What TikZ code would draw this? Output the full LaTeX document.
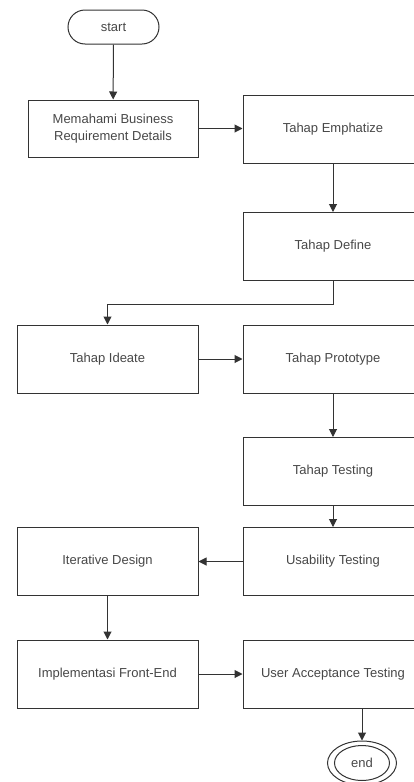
\documentclass[tikz,border=0pt]{standalone}
\usepackage{fontspec}
\setmainfont{Liberation Sans}
\usetikzlibrary{arrows.meta,shapes.geometric}
\definecolor{ink}{HTML}{333333}
\begin{document}
\begin{tikzpicture}[x=1pt,y=-1pt,
  every node/.style={font=\fontsize{13}{17}\selectfont, text=ink!90, align=center, inner sep=0pt},
  box/.style={draw=ink, line width=1pt, rectangle, minimum height=68pt},
  lbox/.style={box, minimum width=181pt},
  rbox/.style={box, minimum width=180pt},
  flow/.style={draw=ink, line width=1pt, -{Triangle[length=8pt,width=8pt]}}
]
\useasboundingbox (0,0) rectangle (414,782);
\clip (0,0) rectangle (414,782);

% terminals
\node[draw=ink, line width=1pt, rounded corners=17pt, minimum width=91pt, minimum height=34pt] (start) at (113.5,27) {start};

% left column
\node[box, minimum width=170pt, minimum height=57pt] (bizreq) at (113,128.5) {Memahami Business\\Requirement Details};
\node[lbox] (ideate) at (107.5,359) {Tahap Ideate};
\node[lbox] (iter) at (107.5,561.5) {Iterative Design};
\node[lbox] (impl) at (107.5,674) {Implementasi Front-End};

% right column
\node[rbox] (emph) at (333,129) {Tahap Emphatize};
\node[rbox] (define) at (333,246.5) {Tahap Define};
\node[rbox] (proto) at (333,359) {Tahap Prototype};
\node[rbox] (testing) at (333,471.5) {Tahap Testing};
\node[rbox] (usab) at (333,561.5) {Usability Testing};
\node[rbox] (uat) at (333,674) {User Acceptance Testing};

% end terminal: double ellipse
\node[draw=ink, line width=1pt, ellipse, minimum width=69pt, minimum height=44pt] (endo) at (362,763) {};
\node[draw=ink, line width=1pt, ellipse, minimum width=55pt, minimum height=35pt] (end) at (362,763) {end};

% connectors
\draw[flow] (start) -- (bizreq);
\draw[flow] (bizreq) -- (bizreq.east -| emph.west);
\draw[flow] (emph) -- (define);
\draw[flow] (define.south) -- ++(0,23) -| (ideate.north);
\draw[flow] (ideate) -- (proto);
\draw[flow] (proto) -- (testing);
\draw[flow] (testing) -- (usab);
\draw[flow] (usab) -- (iter);
\draw[flow] (iter) -- (impl);
\draw[flow] (impl) -- (uat);
\draw[flow] (uat.south -| endo.north) -- (endo.north);
\end{tikzpicture}
\end{document}
